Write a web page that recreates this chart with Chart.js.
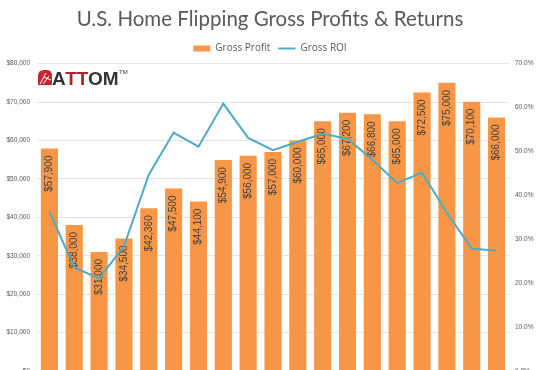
<!DOCTYPE html>
<html>
<head>
<meta charset="utf-8">
<script src="https://cdn.jsdelivr.net/npm/chart.js@4.4.1/dist/chart.umd.min.js"></script>
<style>
  body { margin: 0; background: #fff; }
  #wrap { width: 540px; height: 370px; overflow: hidden; position: relative; }
  #box { width: 540px; height: 382px; position: relative; }
</style>
</head>
<body>
<div id="wrap"><div id="box"><canvas id="mycanvas"></canvas></div></div>
<script>
// values (x labels are cut off in the source)
var years = ['2003','2004','2005','2006','2007','2008','2009','2010','2011','2012',
             '2013','2014','2015','2016','2017','2018','2019','2020','2021'];
var grossProfit = [57900, 38000, 31000, 34500, 42360, 47500, 44100, 54900, 56000, 57000,
                   60000, 65000, 67200, 66800, 65000, 72500, 75000, 70100, 66000];
var grossROI = [36.3, 23.6, 21.1, 28.4, 44.7, 54.3, 51.1, 60.9, 53.1, 50.3,
                52.2, 54.0, 52.9, 48.1, 42.8, 45.2, 36.0, 27.9, 27.4];

var orange = '#F79646';
var teal = '#4BACC6';
var grey = '#595959';

function money(v){
  return '$' + v.toLocaleString('en-US');
}

// vertical labels inside the bars, drawn before the line goes on top
var barLabels = {
  id: 'barLabels',
  afterDatasetDraw: function(chart, args){
    if (args.index !== 0) return;
    var ctx = chart.ctx;
    ctx.save();
    ctx.font = '10px "Liberation Sans", Arial, sans-serif';
    ctx.fillStyle = '#404040';
    ctx.textAlign = 'right';
    ctx.textBaseline = 'middle';
    args.meta.data.forEach(function(bar, i){
      ctx.save();
      ctx.translate(bar.x, bar.y + 7);
      ctx.rotate(-Math.PI / 2);
      ctx.fillText(money(grossProfit[i]), 0, 0);
      ctx.restore();
    });
    ctx.restore();
  }
};

// ATTOM logo top left
var logo = {
  id: 'logo',
  afterDraw: function(chart){
    var ctx = chart.ctx;
    ctx.save();
    ctx.fillStyle = '#C1272D';
    ctx.beginPath();
    ctx.moveTo(38, 85);
    ctx.lineTo(38, 76);
    ctx.quadraticCurveTo(38, 70, 44, 70);
    ctx.lineTo(47, 70);
    ctx.quadraticCurveTo(52, 70, 52, 76);
    ctx.lineTo(52, 85);
    ctx.closePath();
    ctx.fill();
    ctx.strokeStyle = '#fff';
    ctx.lineWidth = 1;
    ctx.beginPath();
    ctx.moveTo(40, 84); ctx.lineTo(46, 73);
    ctx.moveTo(43, 84); ctx.lineTo(49, 76);
    ctx.moveTo(44, 77); ctx.lineTo(51, 80);
    ctx.stroke();
    ctx.font = 'bold 19px "Liberation Sans", Arial, sans-serif';
    ctx.textBaseline = 'alphabetic';
    ctx.textAlign = 'left';
    var x = 52;
    var parts = [['A', '#333333'], ['TT', '#B52026'], ['OM', '#333333']];
    parts.forEach(function(p){
      ctx.fillStyle = p[1];
      ctx.fillText(p[0], x, 85);
      x += ctx.measureText(p[0]).width - 0.5;
    });
    ctx.font = '6px "Liberation Sans", Arial, sans-serif';
    ctx.fillStyle = '#333333';
    ctx.fillText('TM', x + 1, 74);
    ctx.restore();
  }
};

var ctx = document.getElementById('mycanvas');

var chart = new Chart(ctx, {
  type: 'bar',
  data: {
    labels: years,
    datasets: [
      {
        label: 'Gross Profit',
        data: grossProfit,
        backgroundColor: orange,
        borderWidth: 0,
        barPercentage: 0.69,
        categoryPercentage: 1,
        yAxisID: 'y',
        order: 2
      },
      {
        type: 'line',
        label: 'Gross ROI',
        data: grossROI,
        borderColor: teal,
        backgroundColor: teal,
        borderWidth: 2,
        pointRadius: 0,
        tension: 0,
        yAxisID: 'y1',
        order: 1
      }
    ]
  },
  options: {
    responsive: true,
    maintainAspectRatio: false,
    animation: false,
    layout: { padding: { top: 4, bottom: 0, left: 0, right: 0 } },
    plugins: {
      title: {
        display: true,
        text: 'U.S. Home Flipping Gross Profits & Returns',
        color: grey,
        font: { family: 'Lato, "Open Sans", sans-serif', size: 20.5, weight: 'normal' },
        padding: { top: 3, bottom: 4 }
      },
      legend: {
        display: true,
        labels: {
          color: grey,
          font: { family: '"Open Sans", sans-serif', size: 10 },
          usePointStyle: true,
          pointStyleWidth: 17,
          boxHeight: 6,
          padding: 8,
          sort: function(a, b){ return a.datasetIndex - b.datasetIndex; },
          generateLabels: function(chart){
            var items = Chart.defaults.plugins.legend.labels.generateLabels(chart);
            items.forEach(function(it){
              it.pointStyle = it.datasetIndex === 0 ? 'rect' : 'line';
              if (it.datasetIndex === 0) it.lineWidth = 0;
            });
            return items;
          }
        }
      },
      tooltip: { enabled: false }
    },
    scales: {
      x: {
        ticks: { display: false },
        grid: { display: false },
        border: { display: false }
      },
      y: {
        position: 'left',
        min: 0,
        max: 80000,
        ticks: {
          stepSize: 10000,
          color: grey,
          font: { family: '"Liberation Sans", sans-serif', size: 6.5 },
          padding: 7,
          callback: function(v){ return money(v); }
        },
        grid: { color: '#E3E3E3', lineWidth: 1, drawTicks: false },
        border: { display: false },
        afterFit: function(scale){ scale.width = 37; }
      },
      y1: {
        position: 'right',
        min: 0,
        max: 70,
        ticks: {
          stepSize: 10,
          color: grey,
          font: { family: '"Liberation Sans", sans-serif', size: 6.5 },
          padding: 6,
          callback: function(v){ return v.toFixed(1) + '%'; }
        },
        grid: { display: false, drawTicks: false },
        border: { display: false },
        afterFit: function(scale){ scale.width = 31; }
      }
    }
  },
  plugins: [barLabels, logo]
});
</script>
</body>
</html>
